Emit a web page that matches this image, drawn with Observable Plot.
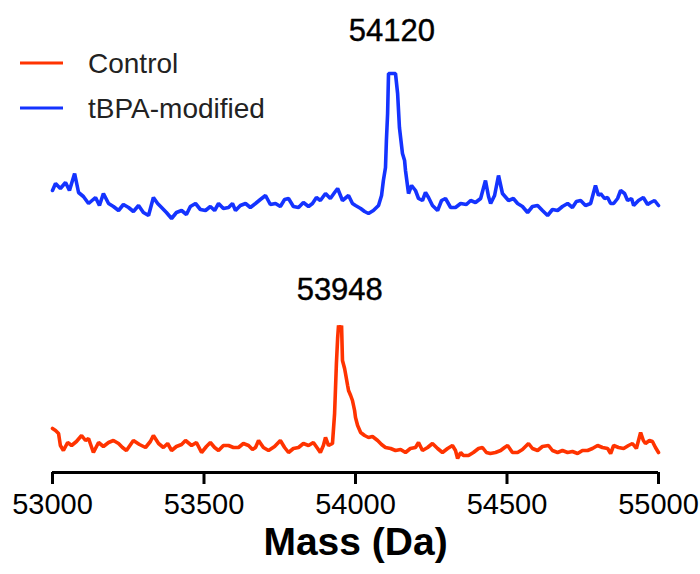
<!DOCTYPE html>
<html>
<head>
<meta charset="utf-8">
<script src="https://cdn.jsdelivr.net/npm/d3@7"></script>
<script src="https://cdn.jsdelivr.net/npm/@observablehq/plot@0.6"></script>
<style>
  html, body { margin: 0; padding: 0; background: #fff; }
  #wrap { position: relative; width: 700px; height: 574px; font-family: "Liberation Sans", Arial, sans-serif; }
  #legend { position: absolute; left: 0; top: 0; }
</style>
</head>
<body>
<div id="wrap"></div>
<script>
// ---- data ----
const seriesNames = ["Control", "tBPA-modified"];
const seriesColors = ["#ff3300", "#1433ff"];

const xTicks = [53000, 53500, 54000, 54500, 55000];

const blueMass = [53000,53010,53026,53043,53056,53073,53086,53102,53119,53142,
53155,53168,53185,53201,53218,53234,53251,53267,53284,53300,
53317,53333,53347,53360,53376,53393,53409,53426,53442,53455,
53472,53488,53505,53521,53535,53548,53564,53581,53594,53604,
53620,53637,53653,53670,53686,53703,53719,53736,53752,53766,
53779,53795,53812,53828,53845,53858,53871,53884,53901,53917,
53931,53941,53957,53977,53990,54000,54017,54030,54043,54059,
54076,54086,54092,54099,54102,54106,54109,54132,54139,54145,
54155,54162,54165,54175,54185,54198,54208,54221,54231,54241,
54254,54271,54284,54297,54314,54330,54347,54366,54380,54396,
54413,54429,54439,54446,54459,54472,54485,54505,54521,54535,
54551,54568,54584,54601,54617,54634,54650,54667,54683,54700,
54716,54729,54743,54759,54776,54792,54802,54809,54822,54832,
54842,54852,54865,54875,54888,54898,54911,54918,54934,54950,
54964,54974,54987,55000];
const blueIntensity = [282,289,284,290,282,299,280,276,269,275,
267,279,269,266,262,268,265,261,267,260,
257,275,269,265,260,254,260,262,258,266,
269,263,262,266,262,269,264,265,269,262,
267,269,265,269,273,277,268,269,266,273,
274,266,265,270,266,269,275,272,279,274,
280,284,272,277,269,267,264,261,259,262,
267,277,292,305,332,359,399,399,379,345,
319,312,302,279,287,282,274,272,280,275,
267,262,272,274,265,265,269,268,272,270,
274,292,276,269,277,297,279,272,274,269,
266,260,266,267,262,257,263,262,266,269,
265,271,272,267,269,287,277,279,274,275,
269,269,274,282,279,272,274,267,272,275,
268,270,272,267];

const redMass = [53000,53010,53020,53026,53036,53050,53063,53079,53096,53109,
53119,53135,53152,53168,53185,53201,53218,53231,53244,53267,
53287,53307,53323,53333,53350,53366,53380,53393,53409,53426,
53439,53459,53475,53492,53508,53521,53535,53548,53564,53581,
53597,53614,53630,53647,53660,53670,53680,53696,53713,53733,
53752,53766,53779,53795,53812,53828,53845,53861,53875,53884,
53894,53901,53911,53924,53931,53937,53941,53944,53950,53954,
53957,53964,53967,53974,53977,53984,53990,53997,54000,54007,
54017,54030,54043,54056,54073,54086,54099,54116,54132,54149,
54165,54181,54198,54208,54221,54238,54254,54271,54287,54304,
54320,54330,54337,54347,54356,54373,54389,54406,54419,54432,
54445,54462,54479,54492,54502,54518,54535,54551,54571,54584,
54601,54617,54637,54650,54667,54683,54700,54716,54733,54749,
54766,54782,54799,54815,54832,54842,54852,54868,54885,54901,
54914,54927,54941,54950,54957,54970,54980,54990,55000];
const redIntensity = [44,42,39,27,22,30,27,31,37,32,
34,20,30,26,30,32,29,25,22,32,
28,25,31,37,29,25,29,22,26,28,
32,27,30,20,26,30,25,22,27,27,
25,25,29,27,23,25,32,25,22,26,
32,25,20,24,25,29,27,30,24,20,
27,35,27,29,59,109,134,147,142,147,
112,104,99,87,82,77,72,62,55,47,
40,37,35,36,32,28,25,24,22,23,
20,24,25,30,22,25,29,24,20,24,
27,22,14,20,17,17,20,24,25,20,
19,20,22,25,27,20,20,23,29,24,
22,26,27,22,20,22,20,21,19,22,
22,24,27,25,24,19,27,25,24,27,
29,24,40,32,29,32,31,25,20];

const peakMass = [54120, 53948];
const peakLabelHeight = [441, 182];

const xLabel = "Mass (Da)";

// ---- build tables ----
const spectra = [
  ...redMass.map((m, i) => ({series: seriesNames[0], mass: m, intensity: redIntensity[i]})),
  ...blueMass.map((m, i) => ({series: seriesNames[1], mass: m, intensity: blueIntensity[i]}))
];
const peaks = peakMass.map((m, i) => ({mass: m, h: peakLabelHeight[i], label: String(m)}));

const fontFamily = '"Liberation Sans", Arial, sans-serif';

const chart = Plot.plot({
  width: 700,
  height: 574,
  marginLeft: 52,
  marginRight: 42,
  marginTop: 60,
  marginBottom: 102,
  style: {fontFamily, fontSize: "28px", color: "#000", background: "#fff", overflow: "visible"},
  x: {domain: [53000, 55000]},
  y: {domain: [0, 412], axis: null},
  color: {domain: seriesNames, range: seriesColors},
  marks: [
    Plot.line(spectra, {x: "mass", y: "intensity", z: "series", stroke: "series", strokeWidth: 3.6, strokeLinejoin: "miter"}),
    Plot.ruleY([0], {stroke: "#000", strokeWidth: 3}),
    Plot.axisX({ticks: xTicks, tickFormat: d => String(d), tickSize: 12, tickPadding: 9, strokeWidth: 3, stroke: "#000", fontSize: 29, fill: "#000", label: null}),
    Plot.text(peaks, {x: "mass", y: "h", text: "label", fontSize: 31, fill: "#000", stroke: "#000", strokeWidth: 0.4}),
    Plot.text([xLabel], {frameAnchor: "bottom", dy: 82, fontSize: 39, fontWeight: "bold", fill: "#000"})
  ]
});

const wrap = document.getElementById("wrap");
wrap.appendChild(chart);

// ---- legend overlay ----
const legend = d3.create("svg")
  .attr("id", "legend")
  .attr("width", 300)
  .attr("height", 130)
  .style("font-family", fontFamily);
const legendY = [63, 108];
seriesNames.forEach((name, i) => {
  legend.append("line")
    .attr("x1", 20).attr("x2", 63)
    .attr("y1", legendY[i]).attr("y2", legendY[i])
    .attr("stroke", seriesColors[i]).attr("stroke-width", 3);
  legend.append("text")
    .attr("x", 88).attr("y", legendY[i])
    .attr("dy", "0.35em")
    .attr("font-size", 28)
    .attr("fill", "#222")
    .text(name);
});
wrap.appendChild(legend.node());
</script>
</body>
</html>
